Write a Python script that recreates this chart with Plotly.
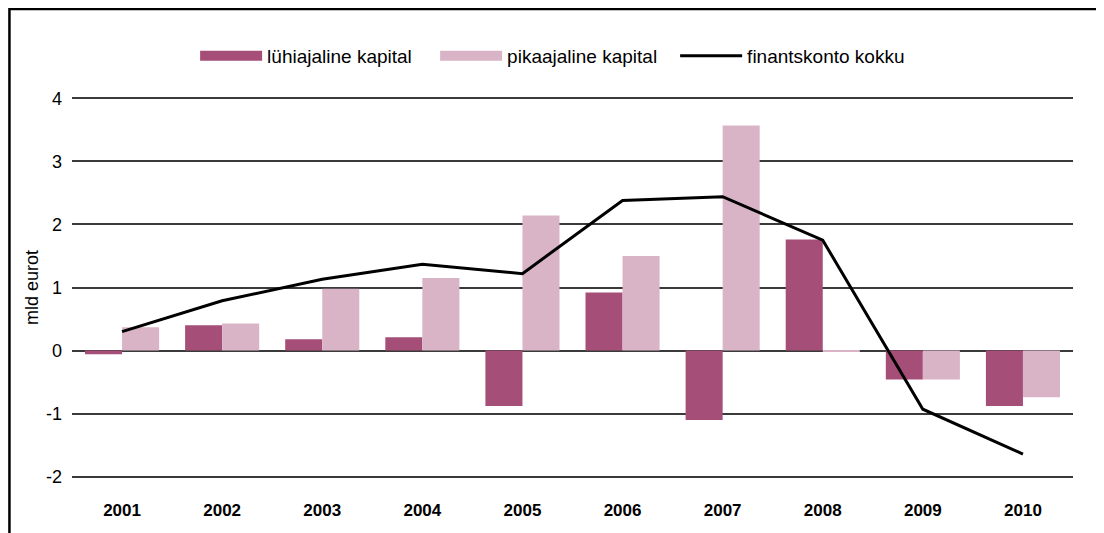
import plotly.graph_objects as go

years = ["2001", "2002", "2003", "2004", "2005", "2006", "2007", "2008", "2009", "2010"]
short_term = [-0.06, 0.40, 0.18, 0.21, -0.88, 0.92, -1.10, 1.76, -0.46, -0.88]
long_term = [0.37, 0.43, 0.98, 1.15, 2.14, 1.50, 3.57, -0.02, -0.46, -0.74]
financial_total = [0.30, 0.79, 1.13, 1.37, 1.22, 2.38, 2.44, 1.75, -0.93, -1.64]
y_ticks = [-2, -1, 0, 1, 2, 3, 4]

DARK = "#a54e78"
LIGHT = "#d9b3c6"
FONT = "Liberation Sans, Arial, sans-serif"

fig = go.Figure()
fig.add_trace(go.Bar(x=years, y=short_term, name="lühiajaline kapital", showlegend=False,
                     marker=dict(color=DARK, line=dict(width=0))))
fig.add_trace(go.Bar(x=years, y=long_term, name="pikaajaline kapital", showlegend=False,
                     marker=dict(color=LIGHT, line=dict(width=0))))

# wide rectangular legend swatches, like the original
for name, color in [("lühiajaline kapital", DARK), ("pikaajaline kapital", LIGHT)]:
    fig.add_trace(go.Scatter(x=[None], y=[None], name=name, mode="lines",
                             line=dict(color=color, width=13)))

fig.add_trace(go.Scatter(x=years, y=financial_total, name="finantskonto kokku",
                         mode="lines", line=dict(color="black", width=3)))

# outer frame around the whole chart
fig.add_shape(type="rect", xref="paper", yref="paper",
              x0=-0.0625, x1=1.028, y0=-0.4, y1=1.231,
              line=dict(color="black", width=2.5), fillcolor="rgba(0,0,0,0)")

fig.update_layout(
    width=1104,
    height=533,
    margin=dict(l=64, r=39, t=89, b=63),
    paper_bgcolor="white",
    plot_bgcolor="white",
    font=dict(family=FONT, size=17, color="black"),
    barmode="group",
    bargap=0.26,
    bargroupgap=0,
    showlegend=True,
    legend=dict(orientation="h", x=0.123, xanchor="left", y=1.108, yanchor="middle",
                font=dict(size=19), itemwidth=62, traceorder="normal",
                entrywidth=163, entrywidthmode="pixels"),
    xaxis=dict(type="category", showgrid=False, showline=False, zeroline=False,
               ticks="", ticklabelstandoff=20,
               tickfont=dict(family=FONT, size=17, weight="bold")),
    yaxis=dict(range=[-2.02, 4.02], tickvals=y_ticks, ticktext=[str(v) for v in y_ticks],
               showgrid=True, gridcolor="#3a3a3a", gridwidth=1.5,
               zeroline=True, zerolinecolor="#3a3a3a", zerolinewidth=1.5,
               showline=False, ticks="", ticklabelstandoff=9,
               tickfont=dict(size=18),
               title=dict(text="mld eurot", standoff=2, font=dict(size=18))),
)

fig.write_html("out.html")
